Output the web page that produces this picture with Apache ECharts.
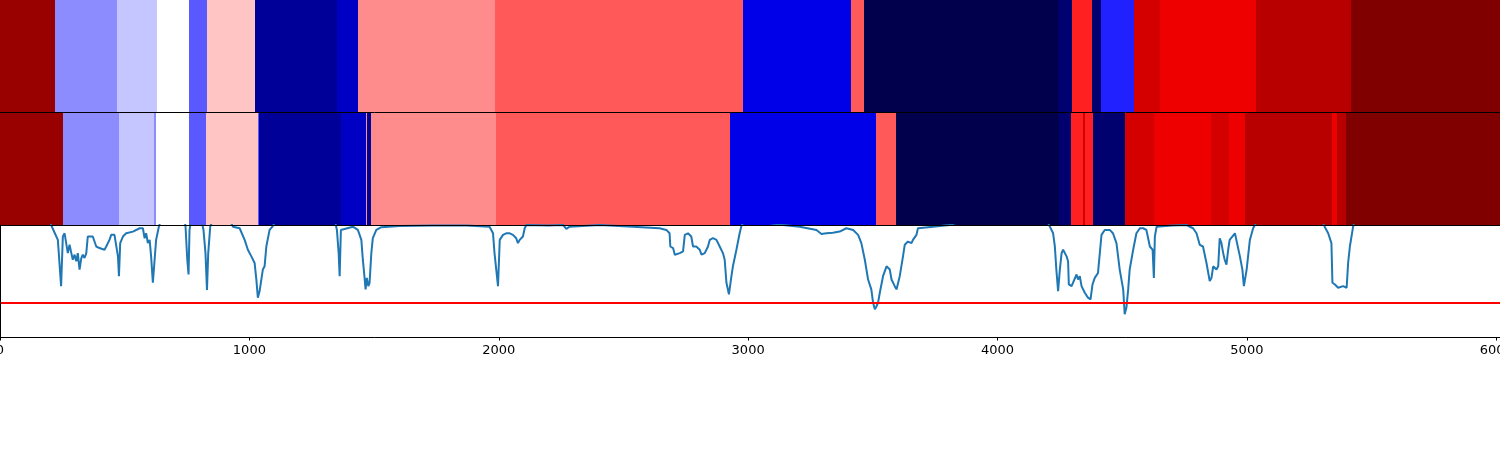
<!DOCTYPE html>
<html>
<head>
<meta charset="utf-8">
<script src="https://cdn.jsdelivr.net/npm/echarts@6/dist/echarts.min.js"></script>
<style>
  html, body { margin: 0; padding: 0; background: #fff; }
  #chart { width: 1500px; height: 450px; }
</style>
</head>
<body>
<div id="chart"></div>
<script>
// ---- data ----
const xMax = 6015;
const xTicks = [0, 1000, 2000, 3000, 4000, 5000, 6000];
const threshold = 0.307;

// level palette index 0..18 (seismic-like, blue -> white -> red)
const levelColors = ['#00004c', '#00006e', '#000099', '#0000c5', '#0000e8', '#2121ff', '#5959ff', '#8c8cff', '#c5c5ff', '#ffffff',
                     '#ffc5c5', '#ff8c8c', '#ff5959', '#ff2121', '#ee0000', '#d40000', '#b80000', '#990000', '#800000'];

const topEdges = [0, 222, 471, 628, 756, 832, 1021, 1350, 1434, 1983, 2978, 3411, 3463, 4242, 4298, 4378, 4414, 4547, 4651, 5036, 5417, 6015];
const topLevels = [17, 7, 8, 9, 6, 10, 2, 3, 11, 12, 4, 12, 0, 1, 13, 1, 5, 15, 14, 16, 18];

const midEdges = [0, 251, 479, 616, 624, 756, 828, 1033, 1037, 1366, 1466, 1470, 1486, 1987, 2926, 3512, 3592, 4246, 4294, 4342, 4350, 4382, 4510, 4627, 4855, 4928, 4992, 5341, 5361, 5397, 6015];
const midLevels = [17, 7, 8, 7, 9, 6, 10, 6, 2, 3, 11, 2, 11, 12, 4, 12, 0, 1, 13, 15, 13, 1, 15, 14, 15, 14, 16, 14, 16, 18];

const lineX = [0, 199, 205, 212, 232, 245, 252, 259, 265, 272, 279, 286, 292, 299, 306, 312, 319, 326, 332, 339, 346, 352, 359, 372, 386, 399, 419, 426, 439, 446, 459, 466, 473, 477, 482, 493, 506, 533, 560, 573, 580, 586, 593, 600, 606, 613, 620, 626, 637, 646,
  740, 744, 751, 756, 760, 767, 807, 816, 824, 830, 835, 843, 854, 920, 934, 961, 981, 994, 1008, 1021, 1028, 1034, 1041, 1054, 1061, 1068, 1081, 1094, 1108,
  1342, 1351, 1358, 1362, 1367, 1375, 1415, 1435, 1449, 1455, 1462, 1466, 1471, 1477, 1482, 1489, 1495, 1509, 1529, 1602, 1736, 1870, 1963, 1977, 1983, 1990, 1997,
  2004, 2017, 2030, 2044, 2057, 2070, 2077, 2084, 2097, 2104, 2111, 2200, 2258, 2271, 2284, 2405, 2538, 2645, 2672, 2685, 2688, 2699, 2706, 2712, 2726, 2739, 2746, 2759, 2772, 2779, 2792, 2806, 2813, 2826, 2839, 2846, 2859, 2873, 2886, 2899, 2906, 2913, 2923, 2933, 2939, 2953, 2966, 2973, 2986,
  3140, 3207, 3274, 3294, 3314, 3340, 3367, 3394, 3421, 3441, 3454, 3468, 3481, 3494, 3501, 3508, 3514, 3521, 3528, 3541, 3555, 3568, 3575, 3581, 3588, 3595, 3601, 3608, 3621, 3628, 3641, 3655, 3661, 3675, 3681, 3742, 3808, 3875,
  4196, 4210, 4223, 4230, 4236, 4243, 4250, 4257, 4263, 4277, 4283, 4286, 4297, 4303, 4317, 4323, 4330, 4337, 4343, 4350, 4363, 4373, 4381, 4390, 4403, 4410, 4417, 4430, 4450, 4463, 4477, 4490, 4504, 4510, 4517, 4524, 4530, 4544, 4557, 4571, 4584, 4597, 4611, 4622, 4627, 4631, 4638, 4700, 4758, 4784, 4798, 4811, 4824, 4838, 4851, 4858, 4865, 4878, 4885, 4891, 4898, 4905, 4911, 4918, 4925, 4931, 4952, 4958, 4972, 4982, 4988, 4999, 5012, 5025, 5032, 5045,
  5299, 5312, 5326, 5339, 5343, 5353, 5360, 5366, 5373, 5386, 5400, 5406, 5413, 5426, 5433, 6015];
const lineY = [1.05, 1.05, 1.0, 0.985, 0.867, 0.454, 0.897, 0.926, 0.912, 0.749, 0.823, 0.749, 0.690, 0.735, 0.676, 0.749, 0.602, 0.705, 0.735, 0.705, 0.749, 0.897, 0.912, 0.897, 0.808, 0.794, 0.779, 0.808, 0.867, 0.912, 0.912, 0.897, 0.720, 0.543, 0.838, 0.897, 0.926, 0.941, 0.971, 0.971, 0.882, 0.926, 0.838, 0.867, 0.720, 0.484, 0.469, 0.867, 0.985, 1.05,
  1.05, 0.985, 0.690, 0.558, 0.956, 1.05, 1.05, 0.956, 0.749, 0.419, 0.749, 0.985, 1.05, 1.05, 0.985, 0.971, 0.867, 0.779, 0.720, 0.661, 0.513, 0.351, 0.410, 0.602, 0.631, 0.808, 0.956, 0.99, 1.05,
  1.05, 0.956, 0.749, 0.543, 0.956, 0.971, 0.985, 0.956, 0.867, 0.690, 0.528, 0.425, 0.528, 0.454, 0.484, 0.749, 0.882, 0.956, 0.98, 0.99, 0.995, 0.995, 0.985, 0.926, 0.749, 0.602, 0.454,
  0.867, 0.912, 0.926, 0.926, 0.912, 0.882, 0.838, 0.867, 0.897, 0.971, 1.0, 0.995, 1.0, 0.965, 0.985, 1.0, 0.985, 0.971, 0.956, 0.926, 0.808, 0.794, 0.735, 0.720, 0.749, 0.764, 0.912, 0.926, 0.897, 0.808, 0.808, 0.779, 0.735, 0.749, 0.808, 0.867, 0.882, 0.867, 0.808, 0.749, 0.690, 0.484, 0.381, 0.543, 0.631, 0.779, 0.926, 0.99, 1.05,
  1.0, 0.985, 0.956, 0.92, 0.926, 0.93, 0.941, 0.971, 0.956, 0.912, 0.838, 0.690, 0.513, 0.425, 0.307, 0.248, 0.27, 0.307, 0.395, 0.543, 0.631, 0.602, 0.513, 0.528, 0.454, 0.425, 0.440, 0.543, 0.720, 0.823, 0.852, 0.838, 0.867, 0.912, 0.971, 0.985, 1.0, 1.05,
  1.05, 0.985, 0.926, 0.808, 0.602, 0.410, 0.602, 0.749, 0.779, 0.720, 0.676, 0.469, 0.454, 0.469, 0.558, 0.513, 0.543, 0.454, 0.440, 0.395, 0.351, 0.336, 0.469, 0.528, 0.572, 0.587, 0.912, 0.956, 0.956, 0.926, 0.838, 0.602, 0.425, 0.204, 0.263, 0.425, 0.602, 0.779, 0.926, 0.971, 0.971, 0.956, 0.808, 0.779, 0.528, 0.897, 0.985, 0.995, 1.0, 0.971, 0.926, 0.823, 0.808, 0.661, 0.499, 0.528, 0.631, 0.602, 0.631, 0.882, 0.838, 0.749, 0.690, 0.646, 0.779, 0.867, 0.926, 0.912, 0.720, 0.602, 0.454, 0.602, 0.867, 0.971, 1.0, 1.05,
  1.05, 0.985, 0.926, 0.838, 0.484, 0.469, 0.454, 0.440, 0.454, 0.454, 0.440, 0.661, 0.808, 0.985, 1.05, 1.05];

// ---- build ----
function segments(edges, levels) {
  return levels.map((lv, i) => [edges[i], edges[i + 1], lv]);
}
function renderBand(params, api) {
  const p0 = api.coord([api.value(0), 0]);
  const p1 = api.coord([api.value(1), 1]);
  const x0 = Math.round(p0[0]), x1 = Math.max(Math.round(p1[0]), Math.round(p0[0]) + 1);
  const y0 = Math.round(p1[1]), y1 = Math.round(p0[1]);
  return {
    type: 'rect',
    shape: { x: x0, y: y0, width: x1 - x0, height: y1 - y0 },
    style: { fill: levelColors[api.value(2)], stroke: null }
  };
}
const lineData = lineX.map((x, i) => [x, lineY[i]]);

const axisBase = { type: 'value', min: 0, max: xMax, splitLine: { show: false }, axisTick: { show: false }, axisLabel: { show: false } };
const blackLine = { show: true, lineStyle: { color: '#000', width: 1 } };

const option = {
  animation: false,
  backgroundColor: '#ffffff',
  grid: [
    { left: 0, right: 0, top: 0, height: 112, containLabel: false, outerBoundsMode: 'none' },
    { left: 0, right: 0, top: 113, height: 112, containLabel: false, outerBoundsMode: 'none' },
    { left: 0, right: 0, top: 225, height: 112, containLabel: false, outerBoundsMode: 'none' }
  ],
  xAxis: [
    Object.assign({}, axisBase, { gridIndex: 0, position: 'top', axisLine: blackLine, z: 10 }),
    Object.assign({}, axisBase, { gridIndex: 1, position: 'top', axisLine: blackLine, z: 10 }),
    Object.assign({}, axisBase, { gridIndex: 1, position: 'bottom', axisLine: blackLine, z: 10 }),
    {
      type: 'value', gridIndex: 2, min: 0, max: xMax, position: 'bottom', z: 10,
      splitLine: { show: false },
      axisLine: blackLine,
      axisTick: { show: true, length: 3.5, lineStyle: { color: '#000', width: 1 }, customValues: xTicks },
      axisLabel: { show: true, margin: 7, color: '#000', fontSize: 13, fontFamily: 'DejaVu Sans', customValues: xTicks, formatter: v => String(v) }
    }
  ],
  yAxis: [
    { type: 'value', gridIndex: 0, min: 0, max: 1, show: false },
    { type: 'value', gridIndex: 1, min: 0, max: 1, show: false },
    { type: 'value', gridIndex: 2, min: 0, max: 1, z: 10, splitLine: { show: false }, axisTick: { show: false }, axisLabel: { show: false }, axisLine: blackLine }
  ],
  series: [
    { type: 'custom', xAxisIndex: 0, yAxisIndex: 0, renderItem: renderBand, data: segments(topEdges, topLevels), silent: true },
    { type: 'custom', xAxisIndex: 1, yAxisIndex: 1, renderItem: renderBand, data: segments(midEdges, midLevels), silent: true },
    {
      type: 'line', xAxisIndex: 3, yAxisIndex: 2, data: lineData, showSymbol: false, symbol: 'none', clip: true,
      lineStyle: { color: '#1f77b4', width: 2 }, silent: true,
      markLine: {
        silent: true, symbol: ['none', 'none'], label: { show: false },
        lineStyle: { color: '#ff0000', width: 2, type: 'solid' },
        data: [{ yAxis: threshold }]
      }
    }
  ]
};
const chart = echarts.init(document.getElementById('chart'), null, { renderer: 'canvas' });
chart.setOption(option);
</script>
</body>
</html>
